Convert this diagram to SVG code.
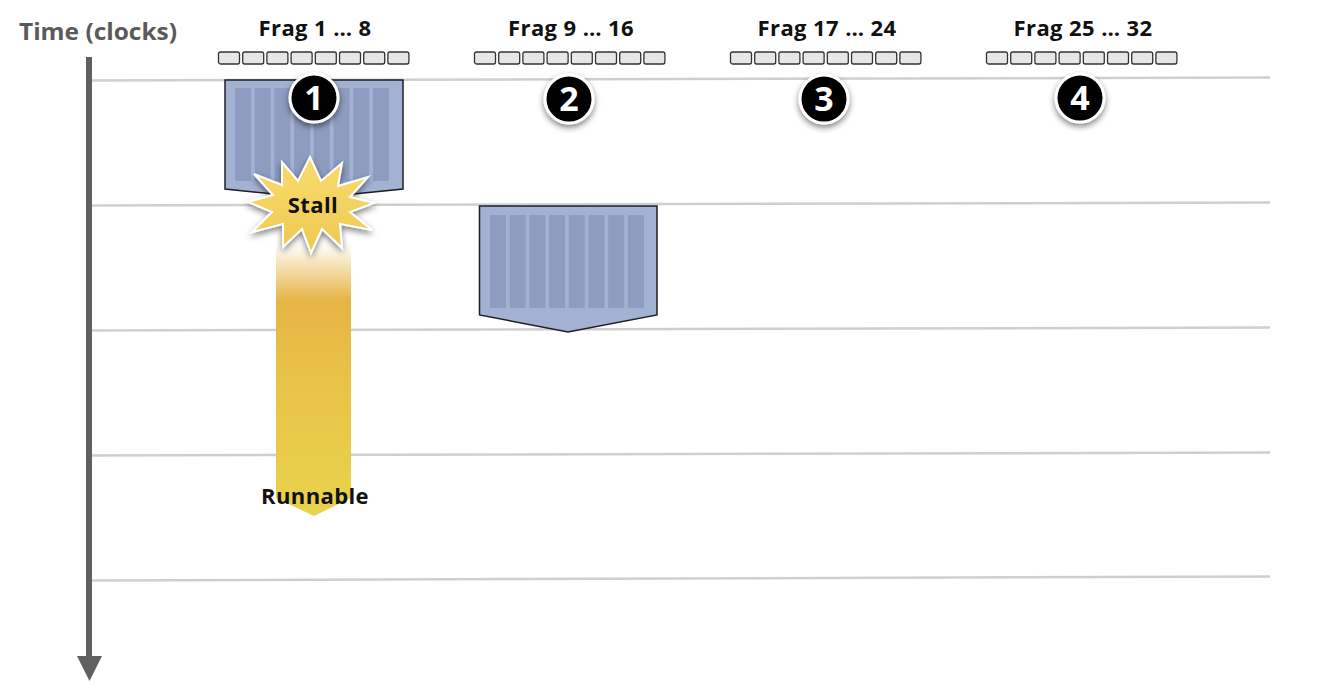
<svg xmlns="http://www.w3.org/2000/svg" width="1320" height="695" viewBox="0 0 1320 695">
<style>
.grid{stroke:#cfcfcf;stroke-width:2.5;fill:none}
.lbl{font-family:"Open Sans","Liberation Sans",sans-serif;font-weight:700;font-size:22px;letter-spacing:0.4px;fill:#111;text-anchor:middle}
.sq{fill:#e6e6e6;stroke:#333;stroke-width:1.3}
.box{fill:#a3b1d3;stroke:#1e1e2a;stroke-width:1.5}
.strip{fill:#8d9cbf}
.num{font-family:"Open Sans","Liberation Sans",sans-serif;font-weight:700;font-size:34px;fill:#fff;text-anchor:middle}
.circ{fill:#000;stroke:#fff;stroke-width:3}
</style>
<defs>
<filter id="sh" x="-50%" y="-50%" width="200%" height="200%">
<feGaussianBlur in="SourceAlpha" stdDeviation="3"/>
<feOffset dx="0" dy="3" result="b"/>
<feComponentTransfer><feFuncA type="linear" slope="0.5"/></feComponentTransfer>
<feMerge><feMergeNode/><feMergeNode in="SourceGraphic"/></feMerge>
</filter>
<linearGradient id="run" x1="0" y1="240" x2="0" y2="515" gradientUnits="userSpaceOnUse">
<stop offset="0" stop-color="#fbf3dc" stop-opacity="0"/>
<stop offset="0.08" stop-color="#f6e6c0"/>
<stop offset="0.22" stop-color="#e7b446"/>
<stop offset="0.55" stop-color="#e8c548"/>
<stop offset="1" stop-color="#e9d24c"/>
</linearGradient>
<linearGradient id="star" x1="0" y1="157" x2="0" y2="253" gradientUnits="userSpaceOnUse">
<stop offset="0" stop-color="#f7dc70"/>
<stop offset="1" stop-color="#f0c850"/>
</linearGradient>
<g id="row">
<rect class="sq" x="0" y="52" width="21" height="12" rx="2"/>
<rect class="sq" x="24.2" y="52" width="21" height="12" rx="2"/>
<rect class="sq" x="48.4" y="52" width="21" height="12" rx="2"/>
<rect class="sq" x="72.6" y="52" width="21" height="12" rx="2"/>
<rect class="sq" x="96.8" y="52" width="21" height="12" rx="2"/>
<rect class="sq" x="121" y="52" width="21" height="12" rx="2"/>
<rect class="sq" x="145.2" y="52" width="21" height="12" rx="2"/>
<rect class="sq" x="169.4" y="52" width="21" height="12" rx="2"/>
</g>
<g id="strips">
<rect class="strip" x="0" y="0" width="16" height="93" rx="1"/>
<rect class="strip" x="19.7" y="0" width="16" height="93" rx="1"/>
<rect class="strip" x="39.4" y="0" width="16" height="93" rx="1"/>
<rect class="strip" x="59.1" y="0" width="16" height="93" rx="1"/>
<rect class="strip" x="78.8" y="0" width="16" height="93" rx="1"/>
<rect class="strip" x="98.5" y="0" width="16" height="93" rx="1"/>
<rect class="strip" x="118.2" y="0" width="16" height="93" rx="1"/>
<rect class="strip" x="137.9" y="0" width="16" height="93" rx="1"/>
</g>
</defs>
<rect width="1320" height="695" fill="#fff"/>

<g id="grid">
<line class="grid" x1="92" y1="80.5" x2="1270" y2="77.5"/>
<line class="grid" x1="92" y1="205.5" x2="1270" y2="202.5"/>
<line class="grid" x1="92" y1="330.5" x2="1270" y2="327.5"/>
<line class="grid" x1="92" y1="455.5" x2="1270" y2="452.5"/>
<line class="grid" x1="92" y1="580.5" x2="1270" y2="576.5"/>
</g>

<g id="axis">
<text x="98" y="40" font-family="'Open Sans','Liberation Sans',sans-serif" font-weight="700" font-size="24" fill="#5a5a5a" text-anchor="middle" textLength="158" lengthAdjust="spacingAndGlyphs">Time (clocks)</text>
<line x1="89" y1="57" x2="89" y2="660" stroke="#606060" stroke-width="6"/>
<polygon points="77,656 102,656 89.5,681" fill="#606060"/>
</g>

<g id="frag1">
<text class="lbl" x="315" y="36">Frag 1 … 8</text>
<use href="#row" x="218.5"/>
</g>
<g id="frag2">
<text class="lbl" x="571" y="36">Frag 9 … 16</text>
<use href="#row" x="474.5"/>
</g>
<g id="frag3">
<text class="lbl" x="827" y="36">Frag 17 … 24</text>
<use href="#row" x="730.5"/>
</g>
<g id="frag4">
<text class="lbl" x="1083" y="36">Frag 25 … 32</text>
<use href="#row" x="986.5"/>
</g>

<g id="runnable">
<polygon points="276,240 351,240 351,498 314,516 276,498" fill="url(#run)"/>
<text class="lbl" x="315" y="504" font-size="24" letter-spacing="0">Runnable</text>
</g>

<g id="block1">
<polygon class="box" points="225,80 403,80 403,189 314,198 225,189"/>
<use href="#strips" x="235" y="88"/>
</g>

<g id="block2">
<polygon class="box" points="479.5,206 657,206 657,315 568,332 479.5,315"/>
<use href="#strips" x="490" y="215"/>
</g>

<g id="stall">
<polygon points="310,157 321,181 342,163 338,186 368,177 350,197 374,203 350,212 372,230 340,224 342,248 322,229 311,253 302,229 283,247 283,224 252,232 272,212 248,202 273,195 254,174 282,185 282,162 298,181" fill="url(#star)" stroke="#fff" stroke-width="2" stroke-linejoin="miter" filter="url(#sh)"/>
<text class="lbl" x="313" y="213" font-size="24" letter-spacing="0">Stall</text>
</g>

<g id="markers">
<g filter="url(#sh)"><circle class="circ" cx="314" cy="98" r="24"/></g>
<text class="num" x="314" y="110">1</text>
<g filter="url(#sh)"><circle class="circ" cx="569" cy="99" r="24"/></g>
<text class="num" x="569" y="111">2</text>
<g filter="url(#sh)"><circle class="circ" cx="824" cy="99" r="24"/></g>
<text class="num" x="824" y="111">3</text>
<g filter="url(#sh)"><circle class="circ" cx="1080" cy="98" r="24"/></g>
<text class="num" x="1080" y="110">4</text>
</g>
</svg>
